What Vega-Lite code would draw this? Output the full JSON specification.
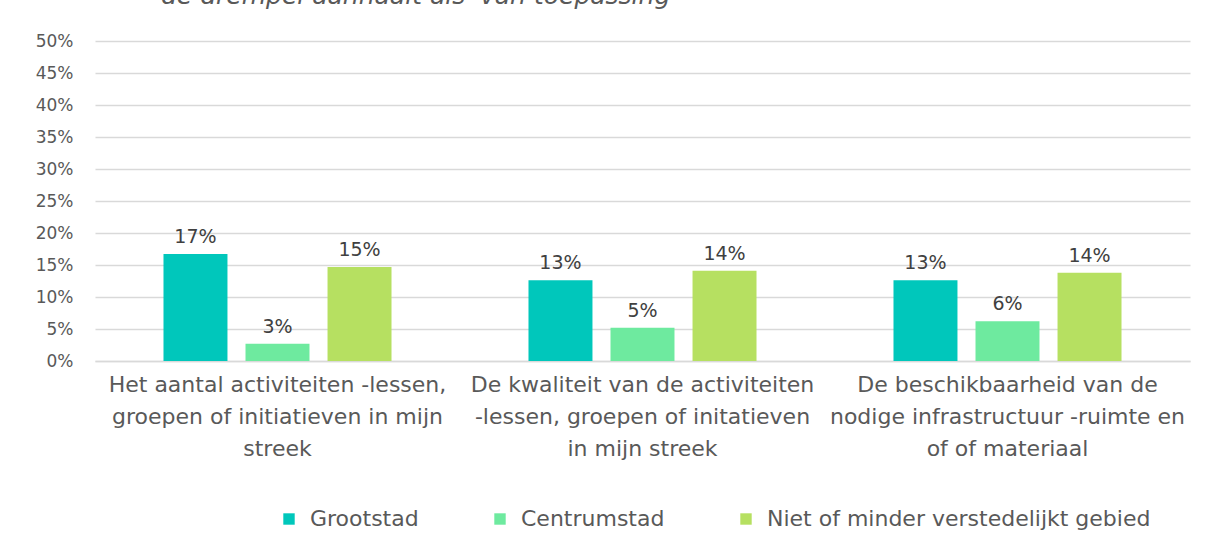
{
  "$schema": "https://vega.github.io/schema/vega-lite/v6.json",
  "width": 1095,
  "height": 320,
  "autosize": {"type": "none"},
  "padding": {"left": 95, "top": 41, "right": 19, "bottom": 175},
  "background": "white",
  "title": {
    "text": "de drempel aanhaalt als 'van toepassing'",
    "frame": "group",
    "anchor": "start",
    "dx": 66,
    "offset": 3,
    "baseline": "alphabetic",
    "font": "DejaVu Sans",
    "fontStyle": "italic",
    "fontWeight": "normal",
    "fontSize": 25,
    "color": "#595959"
  },
  "data": {
    "values": [
      {"cat": "Het aantal activiteiten -lessen,|groepen of initiatieven in mijn|streek", "series": "Grootstad", "value": 0.167},
      {"cat": "Het aantal activiteiten -lessen,|groepen of initiatieven in mijn|streek", "series": "Centrumstad", "value": 0.027},
      {"cat": "Het aantal activiteiten -lessen,|groepen of initiatieven in mijn|streek", "series": "Niet of minder verstedelijkt gebied", "value": 0.147},
      {"cat": "De kwaliteit van de activiteiten|-lessen, groepen of initatieven|in mijn streek", "series": "Grootstad", "value": 0.126},
      {"cat": "De kwaliteit van de activiteiten|-lessen, groepen of initatieven|in mijn streek", "series": "Centrumstad", "value": 0.052},
      {"cat": "De kwaliteit van de activiteiten|-lessen, groepen of initatieven|in mijn streek", "series": "Niet of minder verstedelijkt gebied", "value": 0.141},
      {"cat": "De beschikbaarheid van de|nodige infrastructuur -ruimte en|of of materiaal", "series": "Grootstad", "value": 0.126},
      {"cat": "De beschikbaarheid van de|nodige infrastructuur -ruimte en|of of materiaal", "series": "Centrumstad", "value": 0.062},
      {"cat": "De beschikbaarheid van de|nodige infrastructuur -ruimte en|of of materiaal", "series": "Niet of minder verstedelijkt gebied", "value": 0.138}
    ]
  },
  "encoding": {
    "x": {
      "field": "cat",
      "type": "nominal",
      "sort": null,
      "scale": {"paddingInner": 0, "paddingOuter": 0},
      "axis": {
        "title": null,
        "labelExpr": "split(datum.label, '|')",
        "labelAngle": 0,
        "labelFont": "DejaVu Sans",
        "labelFontSize": 22,
        "labelLineHeight": 32,
        "labelColor": "#595959",
        "labelPadding": 13,
        "labelOverlap": false,
        "labelLimit": 500,
        "ticks": false,
        "domainColor": "#d9d9d9",
        "domainWidth": 1.5
      }
    },
    "xOffset": {
      "field": "series",
      "type": "nominal",
      "sort": ["Grootstad", "Centrumstad", "Niet of minder verstedelijkt gebied"],
      "scale": {"paddingInner": 0.22, "paddingOuter": 0.835}
    },
    "y": {
      "field": "value",
      "type": "quantitative",
      "scale": {"domain": [0, 0.5]},
      "axis": {
        "title": null,
        "format": ".0%",
        "values": [0, 0.05, 0.1, 0.15, 0.2, 0.25, 0.3, 0.35, 0.4, 0.45, 0.5],
        "labelFont": "DejaVu Sans",
        "labelFontSize": 17,
        "labelColor": "#595959",
        "labelPadding": 22,
        "ticks": false,
        "domain": false,
        "gridColor": "#d9d9d9",
        "gridWidth": 1.5
      }
    }
  },
  "layer": [
    {
      "mark": {"type": "bar"},
      "encoding": {
        "color": {
          "field": "series",
          "type": "nominal",
          "sort": ["Grootstad", "Centrumstad", "Niet of minder verstedelijkt gebied"],
          "scale": {
            "domain": ["Grootstad", "Centrumstad", "Niet of minder verstedelijkt gebied"],
            "range": ["#00c7bb", "#6eea9f", "#b6e061"]
          },
          "legend": {
            "title": null,
            "orient": "none",
            "legendX": 183,
            "legendY": 467,
            "direction": "horizontal",
            "columns": 3,
            "symbolType": "square",
            "symbolSize": 130,
            "symbolStrokeWidth": 0,
            "labelFont": "DejaVu Sans",
            "labelFontSize": 22,
            "labelColor": "#595959",
            "labelOffset": 10,
            "columnPadding": 70,
            "labelLimit": 500
          }
        }
      }
    },
    {
      "mark": {"type": "text", "baseline": "bottom", "dy": -7, "font": "DejaVu Sans", "fontSize": 19, "color": "#404040"},
      "encoding": {
        "text": {"field": "value", "type": "quantitative", "format": ".0%"}
      }
    }
  ],
  "config": {
    "view": {"stroke": null}
  }
}
